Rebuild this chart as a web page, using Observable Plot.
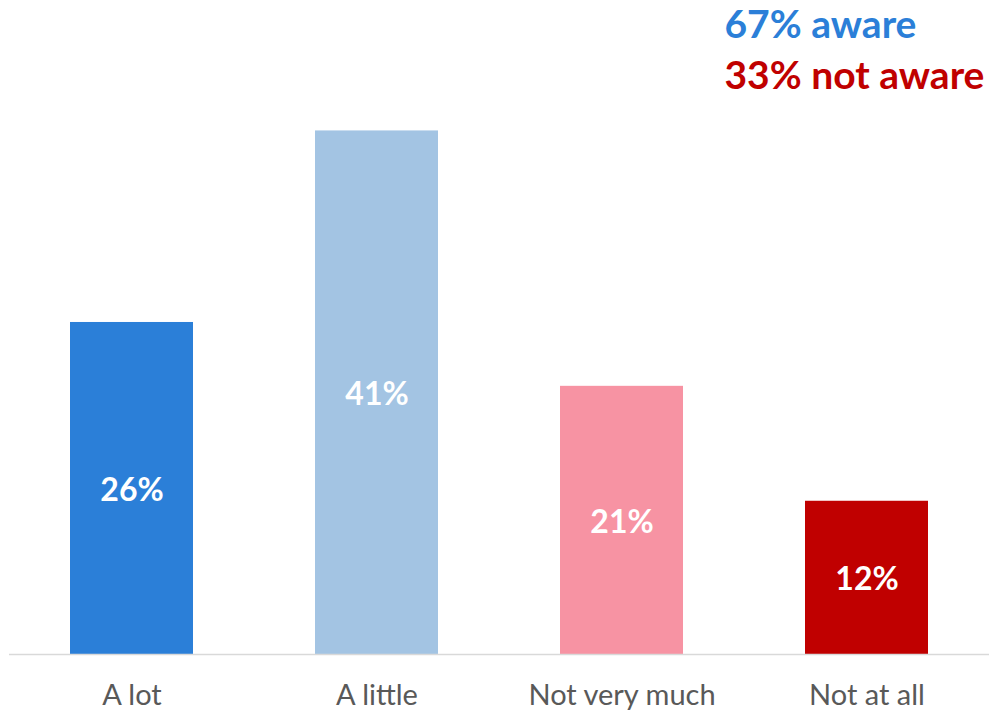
<!DOCTYPE html>
<html>
<head>
<meta charset="utf-8">
<script src="https://cdn.jsdelivr.net/npm/d3@7"></script>
<script src="https://cdn.jsdelivr.net/npm/@observablehq/plot@0.6"></script>
<style>
  html, body { margin: 0; padding: 0; background: #fff; }
  #chart { position: relative; width: 991px; height: 711px; }
</style>
</head>
<body>
<div id="chart"></div>
<script>
const categories = ["A lot", "A little", "Not very much", "Not at all"];
const values = [26, 41, 21, 12];
const barColors = ["#2b7fd8", "#a3c4e3", "#f793a3", "#c00000"];
const legendLines = ["67% aware", "33% not aware"];
const legendColors = ["#2b7fd8", "#c00000"];

const data = categories.map((c, i) => ({ category: c, value: values[i] }));

const legendMarks = legendLines.map((t, i) => Plot.text([t], {
  frameAnchor: "top-left", text: d => d, fill: legendColors[i],
  fontSize: 39, fontWeight: "bold", textAnchor: "start",
  dx: 715, dy: -6 + i * 51
}));

const chart = Plot.plot({
  width: 991,
  height: 711,
  marginLeft: 9,
  marginRight: 2,
  marginTop: 15.5,
  marginBottom: 57,
  style: { fontFamily: "Lato, 'Open Sans', sans-serif", background: "#fff", overflow: "visible" },
  x: { domain: categories, paddingInner: 0.5, paddingOuter: 0.25, label: null },
  y: { domain: [0, 50], axis: null },
  color: { domain: categories, range: barColors },
  marks: [
    Plot.barY(data, { x: "category", y: "value", fill: "category" }),
    Plot.ruleY([0], { stroke: "#d9d9d9", strokeWidth: 1.5 }),
    Plot.axisX({ tickSize: 0, tickPadding: 30, fontSize: 29, fill: "#595959", label: null }),
    Plot.text(data, {
      x: "category", y: d => d.value / 2, text: d => d.value + "%",
      fill: "white", fontSize: 32, fontWeight: "bold", dy: 2
    }),
    ...legendMarks
  ]
});
document.getElementById("chart").appendChild(chart);
</script>
</body>
</html>
